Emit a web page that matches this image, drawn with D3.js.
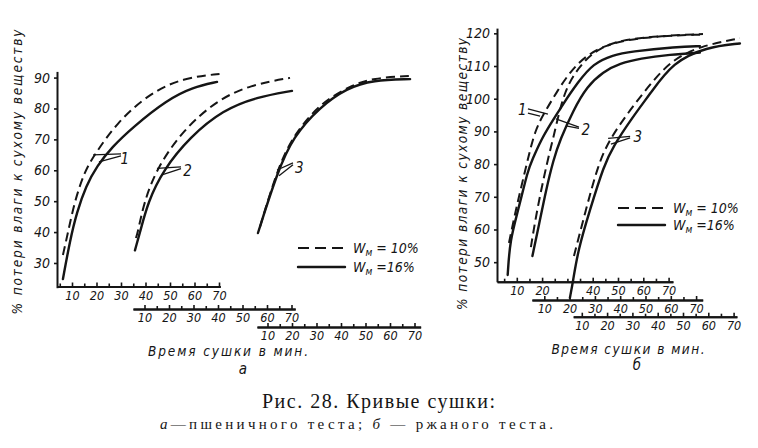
<!DOCTYPE html>
<html>
<head>
<meta charset="utf-8">
<script src="https://cdn.jsdelivr.net/npm/d3@7"></script>
<style>
    body { margin: 0; background: #fff; }
    svg text { font-family: "DejaVu Sans Condensed", "DejaVu Sans", sans-serif; font-style: italic; fill: #151515; }
    .axis path, .axis line { stroke: #151515; }
    .axis path { stroke-width: 2; }
    .axis line { stroke-width: 1.6; }
    .curve { fill: none; stroke: #151515; stroke-width: 2.4; stroke-linecap: round; }
    .dashed { stroke-dasharray: 9 5; stroke-width: 2; stroke-linecap: butt; }
    .leader { fill: none; stroke: #151515; stroke-width: 1.3; }
    .caption { font-family: "Liberation Serif", "DejaVu Serif", serif; font-style: normal; }
</style>
</head>
<body>
<svg id="chart-svg" width="758" height="448"></svg>
<script>
// Tick labels
var xTickLabels = [10, 20, 30, 40, 50, 60, 70];
var xTickLabelsB1 = [10, 20, 40, 50, 60, 70];   // "30" is hidden under curve 3 in the original
var xMinorTicks = [5, 15, 25, 30, 35, 45, 55, 65];
var yTicksA = [30, 40, 50, 60, 70, 80, 90];
var yTicksB = [50, 60, 70, 80, 90, 100, 110, 120];

// Curves: [drying time, min ; % moisture loss]
// a - wheat dough
var a1Dashed = [[6.3, 32.6], [8.4, 40.0], [11.2, 50.4], [15.3, 59.8], [18.6, 64.3], [28.4, 75.6], [41.8, 85.0], [55.3, 89.9], [70.4, 91.2]];
var a1Solid  = [[6.3, 24.8], [9.2, 37.4], [12.0, 46.5], [15.7, 54.9], [20.2, 61.4], [26.3, 67.5], [34.9, 74.0], [48.8, 82.8], [59.4, 86.9], [69.2, 88.6]];
var a2Dashed = [[6.5, 38.1], [7.3, 40.0], [9.8, 49.7], [15.1, 60.8], [25.7, 73.0], [39.6, 82.7], [53.1, 87.6], [69.4, 89.9]];
var a2Solid  = [[6.1, 34.1], [8.2, 40.0], [11.4, 49.7], [17.6, 60.1], [28.6, 70.8], [42.0, 79.5], [55.9, 83.7], [70.2, 85.7]];
var a3Dashed = [[6.9, 41.6], [14.3, 61.1], [21.2, 72.1], [31.8, 81.8], [43.7, 87.3], [53.1, 89.9], [68.2, 90.5]];
var a3Solid  = [[6.1, 39.7], [13.9, 59.1], [20.4, 70.8], [31.4, 80.5], [42.4, 86.6], [53.1, 89.2], [68.2, 89.5]];

// b - rye dough
var b1Dashed = [[6.9, 55.9], [9.6, 66.0], [14.3, 81.3], [17.2, 90.4], [21.1, 96.0], [25.9, 102.2], [31.0, 108.2], [37.6, 113.4], [45.5, 116.4], [53.4, 118.0], [66.6, 119.2], [83.6, 119.8]];
var b1Solid  = [[6.4, 46.1], [7.3, 56.8], [10.6, 66.0], [14.4, 78.2], [16.1, 81.3], [19.6, 87.4], [23.1, 92.0], [28.3, 98.4], [34.2, 105.1], [40.2, 110.8], [48.1, 113.4], [54.7, 114.4], [73.2, 115.9], [82.4, 116.1]];
var b2Dashed = [[4.7, 54.6], [7.1, 66.0], [11.3, 81.3], [13.4, 87.4], [15.8, 95.7], [18.2, 102.1], [21.5, 107.3], [26.8, 112.4], [32.0, 115.4], [39.9, 118.0], [55.7, 119.2], [71.5, 119.6]];
var b2Solid  = [[5.3, 51.9], [7.9, 61.4], [10.7, 72.1], [13.6, 81.3], [16.2, 87.4], [21.5, 96.5], [26.8, 103.7], [33.3, 108.3], [39.9, 110.8], [47.8, 112.3], [59.7, 113.5], [71.5, 114.1]];
var b3Dashed = [[6.9, 51.9], [11.6, 66.0], [16.4, 79.7], [20.8, 87.4], [29.0, 96.5], [37.7, 105.1], [45.6, 111.8], [56.7, 116.1], [72.5, 118.5]];
var b3Solid  = [[5.3, 39.1], [6.5, 44.0], [8.5, 53.7], [13.2, 66.0], [18.8, 79.7], [22.3, 85.3], [29.8, 94.1], [36.9, 101.4], [46.0, 111.2], [59.3, 115.8], [72.5, 116.9]];

var legendLabels = ['10%', '16%'];

var svg = d3.select('#chart-svg');

// Each panel has one y axis and three staggered time axes (one per curve pair)
var panelA = {
    yScale: d3.scaleLinear().domain([22, 92]).range([287.7, 71.4]),
    yAxisX: 57,
    yTicks: yTicksA,
    pxPerMin: 2.45,
    axes: [
        { x0: 47.5, t: [3.9, 70.5], y: 286.5, labels: xTickLabels, pad: 5 },
        { x0: 120, t: [5.3, 71.5], y: 309, labels: xTickLabels, pad: 4 },
        { x0: 243, t: [5.7, 72.5], y: 327, labels: xTickLabels, pad: 4 }
    ],
    curves: [[a1Dashed, a1Solid], [a2Dashed, a2Solid], [a3Dashed, a3Solid]],
    // callouts in data coords of the curve's own axis
    notes: [
        { axis: 0, text: '1', at: [31.6, 63.8], lines: [[[18.6, 65.0], [30.0, 65.3]], [[21.0, 62.7], [30.0, 64.7]]] },
        { axis: 1, text: '2', at: [27.6, 59.9], lines: [[[15.1, 60.6], [24.9, 61.1]], [[17.1, 58.5], [24.9, 60.5]]] },
        { axis: 2, text: '3', at: [23.0, 60.8], lines: [[[13.9, 60.1], [20.4, 62.4]], [[14.7, 58.2], [20.4, 61.8]]] }
    ],
    legend: { x: 298, y: 248, gap: 19 },
    yTitle: { x: 22, y: 172, len: 285 },
    xTitle: { x: 228, y: 356, len: 160 },
    letter: { text: 'а', x: 243, y: 374 }
};

var panelB = {
    yScale: d3.scaleLinear().domain([44, 121.6]).range([281.8, 28.1]),
    yAxisX: 497,
    yTicks: yTicksB,
    pxPerMin: 2.53,
    axes: [
        { x0: 491.5, t: [2.2, 71.7], y: 281.7, labels: xTickLabelsB1, pad: 4 },
        { x0: 519, t: [5.1, 72.6], y: 300, labels: xTickLabels, pad: 4 },
        { x0: 556.5, t: [6.6, 71.3], y: 316.7, labels: xTickLabels, pad: 4 }
    ],
    curves: [[b1Dashed, b1Solid], [b2Dashed, b2Solid], [b3Dashed, b3Solid]],
    notes: [
        { axis: 0, text: '1', at: [12.2, 96.6], lines: [[[14.4, 96.9], [22.3, 95.3]], [[14.4, 95.6], [19.2, 94.7]]] },
        { axis: 1, text: '2', at: [26.4, 90.4], lines: [[[14.6, 93.8], [23.7, 91.3]], [[18.6, 91.7], [23.7, 90.9]]] },
        { axis: 2, text: '3', at: [32.1, 88.3], lines: [[[20.4, 87.9], [29.1, 88.5]], [[21.5, 86.1], [29.1, 88.0]]] }
    ],
    legend: { x: 618, y: 208, gap: 17 },
    yTitle: { x: 467, y: 174, len: 272 },
    xTitle: { x: 628, y: 354, len: 153 },
    letter: { text: 'б', x: 637, y: 370 }
};

drawPanel(panelA);
drawPanel(panelB);

function drawPanel(p) {
    var g = svg.append('g');

    // time scales, one per staggered axis
    var xScales = p.axes.map(function(a) {
        return d3.scaleLinear()
            .domain(a.t)
            .range([a.x0 + p.pxPerMin * a.t[0], a.x0 + p.pxPerMin * a.t[1]]);
    });

    // x axes
    p.axes.forEach(function(a, i) {
        var minors = xMinorTicks.filter(function(d) {
            return d >= a.t[0] && d <= a.t[1] && a.labels.indexOf(d) === -1;
        });
        g.append('g')
            .attr('class', 'axis')
            .attr('transform', 'translate(0,' + a.y + ')')
            .call(d3.axisBottom(xScales[i]).tickValues(minors).tickFormat('').tickSizeInner(-3).tickSizeOuter(0));
        var ax = g.append('g')
            .attr('class', 'axis')
            .attr('transform', 'translate(0,' + a.y + ')')
            .call(d3.axisBottom(xScales[i]).tickValues(a.labels).tickSizeInner(-4).tickSizeOuter(0).tickPadding(a.pad));
        ax.selectAll('text').attr('font-size', 12.5);
    });

    // y axis
    var yAx = g.append('g')
        .attr('class', 'axis')
        .attr('transform', 'translate(' + p.yAxisX + ',0)')
        .call(d3.axisLeft(p.yScale).tickValues(p.yTicks).tickSizeInner(3).tickSizeOuter(0).tickPadding(4));
    yAx.selectAll('text').attr('font-size', 14);

    // curves (smoothed through the read-off points)
    p.curves.forEach(function(pair, i) {
        var line = d3.line()
            .x(function(d) { return xScales[i](d[0]); })
            .y(function(d) { return p.yScale(d[1]); })
            .curve(d3.curveBasis);
        g.append('path').attr('class', 'curve dashed').attr('d', line(pair[0]));
        g.append('path').attr('class', 'curve').attr('d', line(pair[1]));
    });

    // numbered callouts
    p.notes.forEach(function(n) {
        var sx = xScales[n.axis];
        var line = d3.line()
            .x(function(d) { return sx(d[0]); })
            .y(function(d) { return p.yScale(d[1]); });
        n.lines.forEach(function(l) {
            g.append('path').attr('class', 'leader').attr('d', line(l));
        });
        g.append('text')
            .attr('x', sx(n.at[0]))
            .attr('y', p.yScale(n.at[1]))
            .attr('dy', '0.35em')
            .attr('text-anchor', 'middle')
            .attr('font-size', 15)
            .text(n.text);
    });

    // legend
    legendLabels.forEach(function(lbl, i) {
        var ly = p.legend.y + i * p.legend.gap;
        g.append('line')
            .attr('class', i === 0 ? 'curve dashed' : 'curve')
            .attr('x1', p.legend.x).attr('x2', p.legend.x + 47)
            .attr('y1', ly).attr('y2', ly)
            .style('stroke-dasharray', i === 0 ? '11 6' : null);
        var t = g.append('text')
            .attr('x', p.legend.x + 55)
            .attr('y', ly + 5)
            .attr('font-size', 14);
        t.append('tspan').text('W');
        t.append('tspan').attr('dy', 3).attr('font-size', 10).text('м');
        t.append('tspan').attr('dy', -3).text(i === 0 ? ' = ' + lbl : ' =' + lbl);
    });

    // axis titles
    g.append('text')
        .attr('transform', 'rotate(-90)')
        .attr('x', -p.yTitle.y)
        .attr('y', p.yTitle.x)
        .attr('text-anchor', 'middle')
        .attr('font-size', 13.5)
        .attr('textLength', p.yTitle.len)
        .attr('lengthAdjust', 'spacing')
        .text('% потери влаги к сухому веществу');

    g.append('text')
        .attr('x', p.xTitle.x)
        .attr('y', p.xTitle.y)
        .attr('text-anchor', 'middle')
        .attr('font-size', 13.5)
        .attr('textLength', p.xTitle.len)
        .attr('lengthAdjust', 'spacing')
        .text('Время сушки в мин.');

    g.append('text')
        .attr('x', p.letter.x)
        .attr('y', p.letter.y)
        .attr('text-anchor', 'middle')
        .attr('font-size', 15)
        .text(p.letter.text);
}

// figure caption
svg.append('text')
    .attr('class', 'caption')
    .attr('x', 262)
    .attr('y', 408)
    .attr('font-size', 20)
    .attr('textLength', 233)
    .attr('lengthAdjust', 'spacing')
    .text('Рис. 28. Кривые сушки:');

var cap2 = svg.append('text')
    .attr('class', 'caption')
    .attr('x', 160)
    .attr('y', 429)
    .attr('font-size', 15)
    .attr('textLength', 393)
    .attr('lengthAdjust', 'spacing');
cap2.append('tspan').style('font-style', 'italic').text('а');
cap2.append('tspan').text('—пшеничного  теста;  ');
cap2.append('tspan').style('font-style', 'italic').text('б');
cap2.append('tspan').text(' — ржаного  теста.');
</script>
</body>
</html>
